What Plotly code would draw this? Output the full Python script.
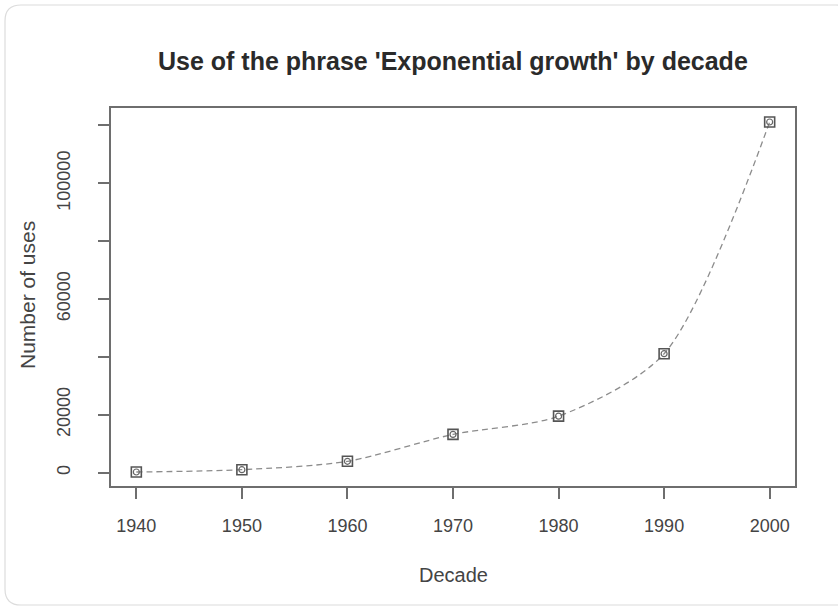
import plotly.graph_objects as go

decades = [1940, 1950, 1960, 1970, 1980, 1990, 2000]
uses = [200, 1000, 3900, 13200, 19500, 41100, 121200]
y_ticks = [0, 20000, 40000, 60000, 80000, 100000, 120000]
y_tick_labels = ["0", "20000", "", "60000", "", "100000", ""]
x_ticks = [1940, 1950, 1960, 1970, 1980, 1990, 2000]

W, H = 838, 610
L, R, T, B = 111, 795, 108, 486
pw, ph = R - L, B - T


def px(x):
    return (x - L) / pw


def py(y):
    return (B - y) / ph


fig = go.Figure()
fig.add_trace(go.Scatter(
    x=decades, y=uses, mode="lines",
    line=dict(color="#8c8c8c", width=1.3, dash="6px,4px", shape="spline", smoothing=0.8),
    hoverinfo="skip", showlegend=False))
fig.add_trace(go.Scatter(
    x=decades, y=uses, mode="markers",
    marker=dict(symbol="square-open", size=10, color="#555555", line=dict(width=1.6, color="#555555")),
    showlegend=False))
fig.add_trace(go.Scatter(
    x=decades, y=uses, mode="markers",
    marker=dict(symbol="circle-open", size=6, color="#666666", line=dict(width=1.2, color="#666666")),
    showlegend=False))

# card outline with rounded corners
x0, y0, x1, y1, r = 5, 5, 852, 605, 16
path = (f"M {px(x0+r)},{py(y0)} L {px(x1-r)},{py(y0)} "
        f"Q {px(x1)},{py(y0)} {px(x1)},{py(y0+r)} L {px(x1)},{py(y1-r)} "
        f"Q {px(x1)},{py(y1)} {px(x1-r)},{py(y1)} L {px(x0+r)},{py(y1)} "
        f"Q {px(x0)},{py(y1)} {px(x0)},{py(y1-r)} L {px(x0)},{py(y0+r)} "
        f"Q {px(x0)},{py(y0)} {px(x0+r)},{py(y0)} Z")
fig.add_shape(type="path", path=path, xref="paper", yref="paper",
              line=dict(color="#dcdcdc", width=1.2), fillcolor="rgba(0,0,0,0)", layer="below")

xmin, xmax = decades[0], decades[-1]
xr = [xmin - 0.04 * (xmax - xmin), xmax + 0.04 * (xmax - xmin)]
ymin, ymax = min(uses), max(uses)
yr = [ymin - 0.04 * (ymax - ymin), ymax + 0.04 * (ymax - ymin)]

FONT = "Liberation Sans, Arial, Helvetica"
axis_common = dict(showgrid=False, zeroline=False, showline=True, mirror=True,
                   linecolor="#6e6e6e", linewidth=1.5, ticks="outside", ticklen=11,
                   tickcolor="#6e6e6e", tickwidth=1.5,
                   tickfont=dict(family=FONT, size=18, color="#444444"))

fig.update_layout(
    width=W, height=H,
    margin=dict(l=L, r=W - R, t=T, b=H - B, autoexpand=False),
    paper_bgcolor="white", plot_bgcolor="white",
    xaxis=dict(range=xr, tickvals=x_ticks, ticktext=[str(v) for v in x_ticks],
               ticklabelstandoff=12, **axis_common),
    yaxis=dict(range=yr, tickvals=y_ticks, ticktext=y_tick_labels, tickangle=-90,
               ticklabelstandoff=21, **axis_common),
    annotations=[
        dict(text="<b>Use of the phrase 'Exponential growth' by decade</b>",
             xref="paper", yref="paper", x=px(453), y=py(61), showarrow=False,
             font=dict(family=FONT, size=25, color="#2a2a2a"),
             xanchor="center", yanchor="middle"),
        dict(text="Decade", xref="paper", yref="paper", x=px(453), y=py(575), showarrow=False,
             font=dict(family=FONT, size=20, color="#444444"),
             xanchor="center", yanchor="middle"),
        dict(text="Number of uses", xref="paper", yref="paper", x=px(27), y=py(295), showarrow=False,
             textangle=-90,
             font=dict(family=FONT, size=21, color="#444444"),
             xanchor="center", yanchor="middle"),
    ],
)

fig.write_html("out.html", config={"displayModeBar": False},
               post_script="document.body.style.margin='0';document.body.style.overflow='hidden';")
